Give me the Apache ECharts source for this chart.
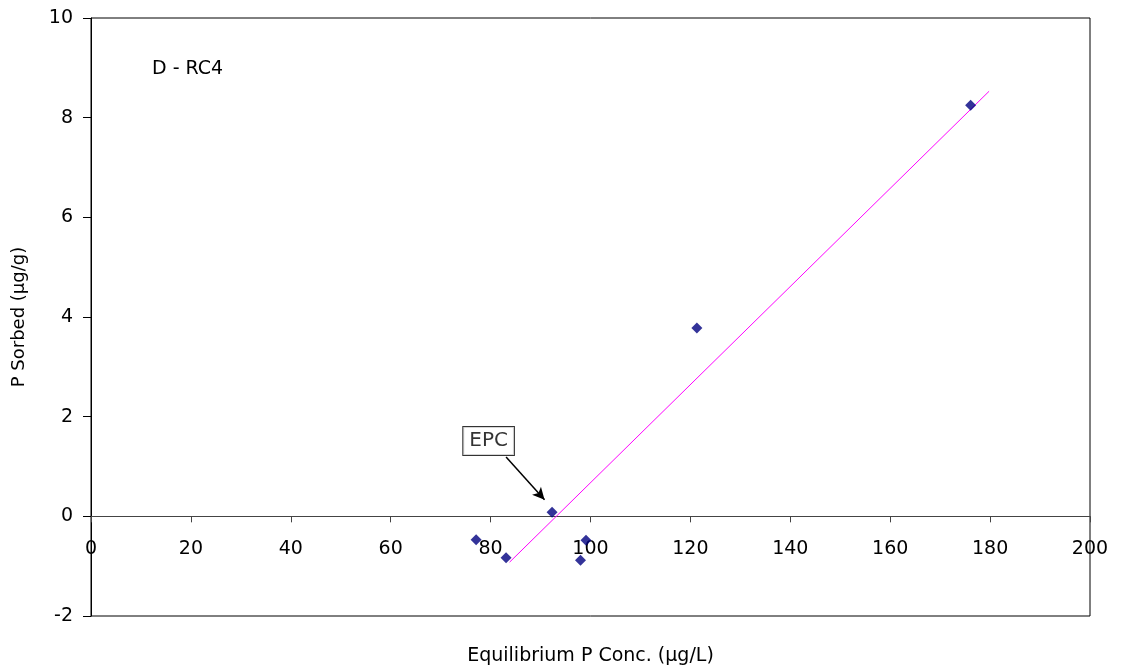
<!DOCTYPE html>
<html><head><meta charset="utf-8">
<script src="https://cdn.jsdelivr.net/npm/echarts@6/dist/echarts.min.js"></script>
<style>html,body{margin:0;padding:0;background:#fff}#c{width:1123px;height:671px}</style>
</head><body><div id="c"></div>
<script>
const xValues = [77.1, 83.1, 92.3, 98.0, 99.1, 121.3, 176.1];
const yValues = [-0.47, -0.83, 0.08, -0.88, -0.48, 3.78, 8.25];
const fitLine = [[83.8, -0.92], [179.8, 8.53]];
const epcLabelPos = [79.6, 1.51];
const epcArrow = [[83.1, 1.19], [90.8, 0.335]];
const xTicks = {min: 0, max: 200, interval: 20};
const yTicks = {min: -2, max: 10, interval: 2};
const FONT = 'DejaVu Sans, Verdana, sans-serif';
const chart = echarts.init(document.getElementById('c'));
const gridTop = 18, gridBottom = 55, H = 671;
const plotH = H - gridTop - gridBottom;
const zeroOffset = plotH * (0 - yTicks.min) / (yTicks.max - yTicks.min);
chart.setOption({
  animation: false,
  grid: {left: 91, right: 33, top: gridTop, bottom: gridBottom, show: true, borderColor: '#000', borderWidth: 1,
         containLabel: false, outerBoundsMode: 'none'},
  xAxis: {
    type: 'value', min: xTicks.min, max: xTicks.max, interval: xTicks.interval,
    position: 'bottom', offset: -zeroOffset,
    axisLine: {show: true, onZero: false, lineStyle: {color: '#444', width: 1}},
    axisTick: {show: true, inside: false, length: 6, lineStyle: {color: '#444'}},
    axisLabel: {color: '#000', fontSize: 19, fontFamily: FONT, margin: 23},
    splitLine: {show: false},
    name: 'Equilibrium P Conc. (\u03bcg/L)', nameLocation: 'middle', nameGap: zeroOffset + 31,
    nameTextStyle: {color: '#000', fontSize: 19, fontFamily: FONT}
  },
  yAxis: {
    type: 'value', min: yTicks.min, max: yTicks.max, interval: yTicks.interval,
    axisLine: {show: true, onZero: false, lineStyle: {color: '#000', width: 1}},
    axisTick: {show: true, length: 8, lineStyle: {color: '#000'}},
    axisLabel: {color: '#000', fontSize: 19, fontFamily: FONT, margin: 18},
    splitLine: {show: false},
    name: 'P Sorbed (\u03bcg/g)', nameLocation: 'middle', nameGap: 63, nameRotate: 90,
    nameTextStyle: {color: '#000', fontSize: 18, fontFamily: FONT}
  },
  series: [
    {
      type: 'line', data: fitLine, symbol: 'none',
      lineStyle: {color: '#FF00FF', width: 1}, z: 2
    },
    {
      type: 'scatter', data: xValues.map((x, i) => [x, yValues[i]]),
      symbol: 'diamond', symbolSize: 11, itemStyle: {color: '#000080'}, z: 3
    },
    {
      type: 'scatter', data: [epcLabelPos], symbolSize: 0, z: 5, silent: true,
      label: {
        show: true, position: 'inside', formatter: 'EPC', color: '#000',
        fontSize: 20, fontFamily: FONT, backgroundColor: '#fff',
        borderColor: '#000', borderWidth: 1, padding: [5, 6, 3, 6]
      },
      markLine: {
        silent: true, animation: false,
        lineStyle: {color: '#000', width: 1.5, type: 'solid'},
        label: {show: false},
        data: [[
          {coord: epcArrow[0], symbol: 'none'},
          {coord: epcArrow[1], symbol: 'arrow', symbolSize: [9, 12]}
        ]]
      }
    }
  ],
  graphic: [
    {type: 'text', left: 152, top: 60, style: {text: 'D - RC4', fontSize: 19, fontFamily: FONT, fill: '#000'}}
  ]
});
</script></body></html>
